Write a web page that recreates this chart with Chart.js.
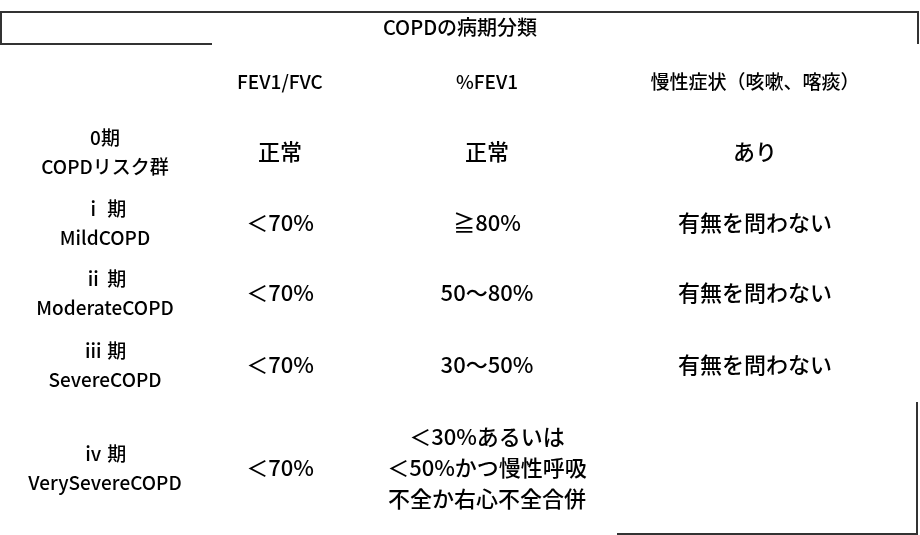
<!DOCTYPE html>
<html><head><meta charset="utf-8">
<script src="https://cdn.jsdelivr.net/npm/chart.js@4/dist/chart.umd.min.js"></script>
<style>html,body{margin:0;padding:0;background:#fff}#wrap{width:920px;height:535px}</style>
</head><body><div id="wrap"><canvas id="c" width="920" height="535"></canvas></div>
<script>
const title = "COPDの病期分類";
const headers = ["", "FEV1/FVC", "%FEV1", "慢性症状（咳嗽、喀痰）"];
const stages = [["0期","COPDリスク群"],["ⅰ 期","MildCOPD"],["ⅱ 期","ModerateCOPD"],["ⅲ 期","SevereCOPD"],["ⅳ 期","VerySevereCOPD"]];
const fevRatio = [["正常"],["＜70%"],["＜70%"],["＜70%"],["＜70%"]];
const fevPct = [["正常"],["≧80%"],["50～80%"],["30～50%"],["＜30%あるいは","＜50%かつ慢性呼吸","不全か右心不全合併"]];
const symptoms = [["あり"],["有無を問わない"],["有無を問わない"],["有無を問わない"],[""]];
const colX = [105, 280, 487, 755];
const rowY = [152, 223, 293, 365, 468];
const headerY = 82, titleY = 27;
const F = '"Noto Sans CJK JP","Noto Sans",sans-serif';

const tablePlugin = {
  id: 'table',
  afterDraw(chart) {
    const ctx = chart.ctx, xs = chart.scales.x, ys = chart.scales.y;
    const X = v => xs.getPixelForValue(v), Y = v => ys.getPixelForValue(v);
    ctx.save();
    ctx.fillStyle = '#000'; ctx.textAlign = 'center'; ctx.textBaseline = 'middle';
    ctx.font = '500 20px ' + F;
    ctx.fillText(title, X(460), Y(titleY));
    ctx.font = '500 19px ' + F;
    headers.forEach((h, i) => { if (h) ctx.fillText(h, X(colX[i]), Y(headerY)); });
    const drawCell = (lines, cx, cy, lh) => {
      const n = lines.length;
      lines.forEach((t, k) => ctx.fillText(t, X(cx), Y(cy + (k - (n - 1) / 2) * lh)));
    };
    stages.forEach((s, r) => {
      ctx.font = '500 19px ' + F;
      drawCell(s, colX[0], rowY[r], 29);
      ctx.font = '500 22px ' + F;
      drawCell(fevRatio[r], colX[1], rowY[r], 31);
      drawCell(fevPct[r], colX[2], rowY[r], 31);
      drawCell(symptoms[r], colX[3], rowY[r], 31);
    });
    ctx.strokeStyle = '#333'; ctx.lineWidth = 2;
    ctx.beginPath();
    ctx.moveTo(X(1), Y(44)); ctx.lineTo(X(1), Y(12)); ctx.lineTo(X(918), Y(12)); ctx.lineTo(X(918), Y(44));
    ctx.moveTo(X(0), Y(44)); ctx.lineTo(X(212), Y(44));
    ctx.moveTo(X(917), Y(402)); ctx.lineTo(X(917), Y(534)); ctx.lineTo(X(617), Y(534));
    ctx.stroke();
    ctx.restore();
  }
};

new Chart(document.getElementById('c'), {
  type: 'scatter',
  data: { datasets: [{ data: [] }] },
  options: {
    responsive: false, animation: false, devicePixelRatio: 1,
    layout: { padding: 0 },
    plugins: { legend: { display: false }, tooltip: { enabled: false } },
    scales: {
      x: { type: 'linear', min: 0, max: 920, display: false },
      y: { type: 'linear', min: 0, max: 535, reverse: true, display: false }
    }
  },
  plugins: [tablePlugin]
});
</script></body></html>
